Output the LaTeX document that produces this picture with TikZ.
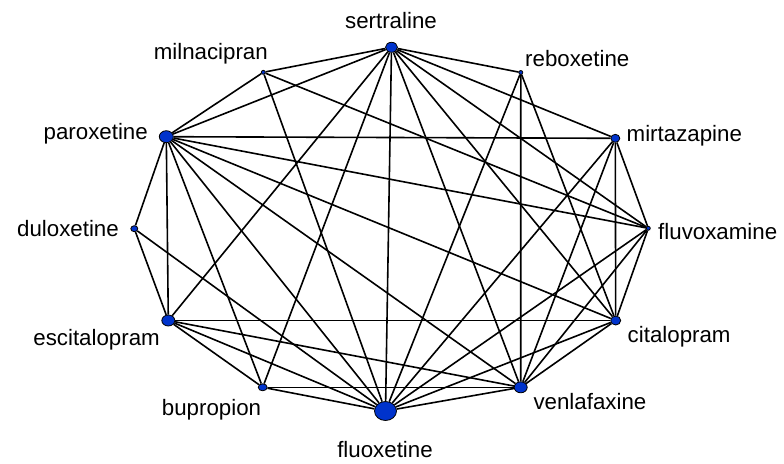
\documentclass[tikz,border=0pt]{standalone}
\usepackage{fontspec}
\setmainfont{Liberation Sans}
\usetikzlibrary{shapes.geometric}
\definecolor{dotblue}{RGB}{0,51,204}
\tikzset{
  dot/.style={ellipse, draw=black, line width=0.8pt, fill=dotblue, inner sep=0pt},
  lab/.style={inner sep=0pt, font=\fontsize{22.3}{26}\selectfont},
  edge/.style={line width=1.6pt, black}
}
\begin{document}
\begin{tikzpicture}[x=1pt,y=-1pt]
\useasboundingbox (0,0) rectangle (784,463);
% nodes
\node[dot, minimum width=12pt, minimum height=10pt] (sert) at (391.5,47.3) {};
\node[dot, minimum width=4pt, minimum height=4pt] (mil) at (263.3,72.3) {};
\node[dot, minimum width=4pt, minimum height=4pt] (reb) at (520.8,72.5) {};
\node[dot, minimum width=14pt, minimum height=12pt] (par) at (166.3,136.7) {};
\node[dot, minimum width=9pt, minimum height=8pt] (mir) at (615.3,138.3) {};
\node[dot, minimum width=7pt, minimum height=6pt] (dul) at (134.3,228.7) {};
\node[dot, minimum width=4pt, minimum height=4pt] (flv) at (648.3,228.3) {};
\node[dot, minimum width=13pt, minimum height=11pt] (esc) at (168.3,320.5) {};
\node[dot, minimum width=10pt, minimum height=9pt] (cit) at (615.7,320.5) {};
\node[dot, minimum width=9pt, minimum height=7pt] (bup) at (262.7,387.3) {};
\node[dot, minimum width=13pt, minimum height=11pt] (ven) at (520.7,387.3) {};
\node[dot, minimum width=22pt, minimum height=19pt] (flx) at (385.5,411) {};
% edges
\foreach \a/\b in {sert/mil,sert/par,sert/reb,sert/mir,sert/flv,sert/cit,sert/ven,sert/flx,sert/bup,sert/esc,
  mil/par,mil/flx,mil/flv,
  reb/flx,reb/ven,reb/cit,
  par/mir,par/flv,par/cit,par/ven,par/flx,par/bup,par/esc,par/dul,
  mir/flv,mir/cit,mir/ven,mir/flx,
  dul/esc,dul/flx,
  flv/cit,flv/ven,flv/flx,
  esc/cit,esc/ven,esc/flx,esc/bup,
  cit/ven,cit/flx,
  bup/ven,bup/flx,
  ven/flx}
  \draw[edge] (\a) -- (\b);
% labels
\node[lab, anchor=base] (lsert) at (391,28) {sertraline};
\node[lab, anchor=base east] (lmil) at (268,59) {milnacipran};
\node[lab, anchor=base west] (lreb) at (525,66) {reboxetine};
\node[lab, anchor=base east] (lpar) at (148,139) {paroxetine};
\node[lab, anchor=base west] (lmir) at (626.5,141.7) {mirtazapine};
\node[lab, anchor=base east] (ldul) at (119,236.7) {duloxetine};
\node[lab, anchor=base west] (lflv) at (658,239) {fluvoxamine};
\node[lab, anchor=base east] (lesc) at (160,345) {escitalopram};
\node[lab, anchor=base west] (lcit) at (627.5,342) {citalopram};
\node[lab, anchor=base west] (lbup) at (161.7,415) {bupropion};
\node[lab, anchor=base west] (lven) at (533.3,409.3) {venlafaxine};
\node[lab, anchor=base] (lflx) at (385,457) {fluoxetine};
\end{tikzpicture}
\end{document}
